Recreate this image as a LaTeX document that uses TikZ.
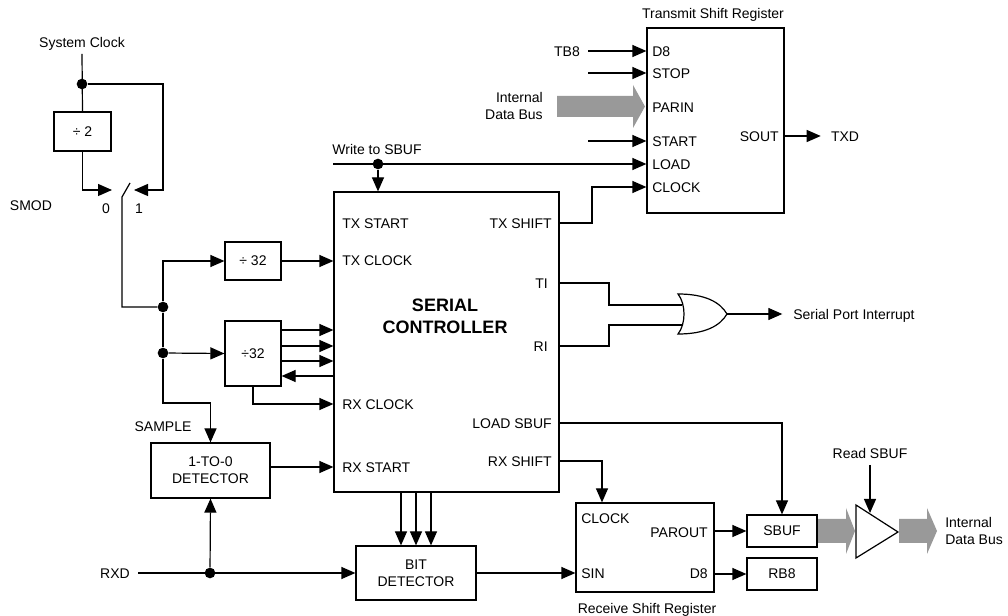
\documentclass[tikz,border=0pt]{standalone}
\usepackage{fontspec}
\setmainfont{Liberation Sans}
\usetikzlibrary{arrows.meta, calc, positioning}
\newcommand{\lblfont}{\fontsize{10.5}{12.6}\selectfont}
\newcommand{\ttlfont}{\fontsize{13.5}{16.5}\selectfont\bfseries}
\tikzset{
    wire/.style={line width=0.9pt},
    sig/.style={line width=0.9pt, -{Triangle[length=10.5pt, width=9pt]}},
    blk/.style={draw, line width=0.9pt, rectangle, inner sep=0pt, align=center, font=\lblfont},
    lbl/.style={inner sep=0pt, font=\lblfont, text height=7.6pt, text depth=0pt},
    jdot/.style={circle, fill=black, inner sep=0pt, minimum size=8pt},
    bus/.style={fill=black!40},
}
\newcommand{\drawBlock}[6]{
    \node[blk, minimum width={(#4-#2)*0.75pt}, minimum height={(#5-#3)*0.75pt}] (#1) at ({(#2+#4)/2}, {(#3+#5)/2}) {#6};
}
\newcommand{\drawBus}[6]{
    % x from, x tip, y, head length, body half, head half
    \fill[bus] (#1, {#3-#5}) -- ({#2-#4}, {#3-#5}) -- ({#2-#4}, {#3-#6}) -- (#2, #3)
        -- ({#2-#4}, {#3+#6}) -- ({#2-#4}, {#3+#5}) -- (#1, {#3+#5}) -- cycle;
}
\begin{document}
\begin{tikzpicture}[x=0.75pt, y=-0.75pt]
        \useasboundingbox (0,0) rectangle (1008,616);

        % clock select
        \node[lbl] (sysclk) at (82,42) {System Clock};
        \node[jdot] (jclk) at (82,84) {};
        \drawBlock{div2}{54}{112}{111}{151}{÷ 2}
        \node[lbl] (smod) at (31,205) {SMOD};
        \node[lbl] (sel0) at (106,208) {0};
        \node[lbl] (sel1) at (139,208) {1};
        \coordinate (sw0) at (112,190);
        \coordinate (sw1) at (134,190);
        \coordinate (swp) at (122,197);
        \coordinate (swq) at (130,183);
        \node[jdot] (j1) at (163,307) {};
        \node[jdot] (j2) at (163,353) {};

        \draw[wire] ([yshift=-5pt]sysclk.south) -- (div2.north);
        \draw[sig] (jclk) -| (163,190) -- (sw1);
        \draw[sig] (div2.south) |- (sw0);
        \draw[wire] (swq) -- (swp) |- (j1);

        % controller
        \drawBlock{div32a}{225}{242}{281}{280}{÷ 32}
        \drawBlock{div32b}{225}{321}{281}{386}{÷32}
        \drawBlock{ctrl}{334}{192}{559}{492}{}
        \node[font=\ttlfont, align=center] (ctrlname) at (445,316) {SERIAL\\CONTROLLER};
        \node[lbl, anchor=west] (txstart) at (342,223) {TX START};
        \node[lbl, anchor=west] (txclock) at (342,260) {TX CLOCK};
        \node[lbl, anchor=west] (rxclock) at (342,404) {RX CLOCK};
        \node[lbl, anchor=west] (rxstart) at (342,467) {RX START};
        \node[lbl, anchor=east] (txshift) at (552,223) {TX SHIFT};
        \node[lbl, anchor=east] (tiout) at (548,283) {TI};
        \node[lbl, anchor=east] (riout) at (548,346) {RI};
        \node[lbl, anchor=east] (ldsbuf) at (552,423) {LOAD SBUF};
        \node[lbl, anchor=east] (rxshift) at (552,461) {RX SHIFT};

        \draw[sig] (j1) |- (div32a.west);
        \draw[sig] (div32a.east) -- (div32a.east -| ctrl.west);
        \draw[wire] (j1) -- (j2);
        \draw[sig] (j2) -- (div32b.west);
        \foreach \yy in {330,346,361}
            \draw[sig] (div32b.east |- 0,\yy) -- (ctrl.west |- 0,\yy);
        \draw[sig] (ctrl.west |- 0,376) -- (div32b.east |- 0,376);
        \draw[sig] (div32b.south) |- (ctrl.west |- rxclock.west);

        % receive detectors
        \drawBlock{det10}{151}{443}{270}{498}{1-TO-0\\DETECTOR}
        \drawBlock{bitdet}{356}{546}{476}{600}{BIT\\DETECTOR}
        \node[lbl] (sample) at (163,426) {SAMPLE};
        \node[lbl] (rxd) at (115,573) {RXD};
        \node[jdot] (jrxd) at (210,573) {};

        \draw[sig] (j2) -- (163,403) -| (det10.north);
        \draw[sig] (det10.east |- rxstart.west) -- (rxstart.west -| ctrl.west);
        \draw[sig] ([xshift=6pt]rxd.east) -- (bitdet.west);
        \draw[sig] (jrxd) -- (det10.south);
        \foreach \xx in {401,416,431}
            \draw[sig] (\xx,0 |- ctrl.south) -- (\xx,0 |- bitdet.north);

        % transmit shift register
        \drawBlock{txsr}{647}{28}{784}{213}{}
        \node[lbl] (txsrname) at (713,13) {Transmit Shift Register};
        \node[lbl, anchor=west] (txd8) at (652,51) {D8};
        \node[lbl, anchor=west] (txstop) at (652,73) {STOP};
        \node[lbl, anchor=west] (txparin) at (652,107) {PARIN};
        \node[lbl, anchor=west] (txstrt) at (652,141) {START};
        \node[lbl, anchor=west] (txload) at (652,164) {LOAD};
        \node[lbl, anchor=west] (txclk) at (652,187) {CLOCK};
        \node[lbl, anchor=east] (sout) at (779,136) {SOUT};
        \node[lbl] (tb8) at (567,51) {TB8};
        \node[font=\lblfont, align=right, anchor=east, inner sep=0pt] (busin) at (543,106) {Internal\\Data Bus};
        \node[lbl] (wrsbuf) at (377,149) {Write to SBUF};
        \node[jdot] (jwr) at (378,164) {};
        \coordinate (wrin) at (333,164);
        \coordinate (stopin) at (588,73);
        \coordinate (startin) at (588,141);
        \node[lbl] (txd) at (845,136) {TXD};

        \draw[sig] ([xshift=6pt]tb8.east) -- (tb8.east -| txsr.west);
        \draw[sig] (stopin) -- (stopin -| txsr.west);
        \drawBus{557}{645}{106.5}{12}{10.5}{21.5}
        \draw[sig] (startin) -- (startin -| txsr.west);
        \draw[sig] (wrin) -- (wrin -| txsr.west);
        \draw[sig] (jwr) -- (jwr |- ctrl.north);
        \draw[sig] (txshift.east -| ctrl.east) -- (592,223) |- (txclk.west -| txsr.west);
        \draw[sig] (sout.east -| txsr.east) -- ([xshift=-7.5pt]txd.west);

        % interrupt
        \coordinate (orin1) at (682,305);
        \coordinate (orin2) at (682,325);
        \coordinate (orout) at (727,314);
        \draw[wire] (678,294) .. controls (705,294) and (720,302) .. (orout)
            .. controls (720,326) and (705,334) .. (678,334)
            .. controls (686,324) and (686,304) .. (678,294) -- cycle;
        \node[lbl, anchor=west] (spi) at (793,314) {Serial Port Interrupt};

        \draw[wire] (tiout.east -| ctrl.east) -| (609,305) -- (orin1);
        \draw[wire] (riout.east -| ctrl.east) -| (609,325) -- (orin2);
        \draw[sig] (orout) -- ([xshift=-8pt]spi.west);

        % receive shift register and buffer
        \drawBus{817}{855}{531}{9}{12}{23}
        \drawBus{899}{937}{531}{10}{12}{23}
        \drawBlock{rxsr}{576}{503}{714}{592}{}
        \node[lbl] (rxsrname) at (647,608) {Receive Shift Register};
        \node[lbl, anchor=west] (rxclk) at (581,518) {CLOCK};
        \node[lbl, anchor=east] (parout) at (708,532) {PAROUT};
        \node[lbl, anchor=west] (sin) at (581,573) {SIN};
        \node[lbl, anchor=east] (rxd8) at (708,573) {D8};
        \drawBlock{sbuf}{747}{515}{817}{547}{SBUF}
        \drawBlock{rb8}{747}{558}{817}{590}{RB8}
        \coordinate (bufa) at (856,505);
        \coordinate (bufb) at (856,558);
        \coordinate (bufc) at (898,532);
        \coordinate (bufr) at (870,513);
        \draw[wire] (bufa) -- (bufc) -- (bufb) -- cycle;
        \node[lbl] (rdsbuf) at (870,453) {Read SBUF};
        \node[font=\lblfont, align=left, anchor=west, inner sep=0pt] (busout) at (945,531) {Internal\\Data Bus};

        \draw[sig] ([yshift=-5pt]rdsbuf.south) -- (bufr);
        \draw[sig] (ldsbuf.east -| ctrl.east) -| (sbuf.north);
        \draw[sig] (rxshift.east -| ctrl.east) -| (602,0 |- rxsr.north);
        \draw[sig] (bitdet.east) -- (bitdet.east -| rxsr.west);
        \draw[sig] (rxsr.east |- sbuf.west) -- (sbuf.west);
        \draw[sig] (rxsr.east |- rb8.west) -- (rb8.west);

    \end{tikzpicture}
\end{document}
